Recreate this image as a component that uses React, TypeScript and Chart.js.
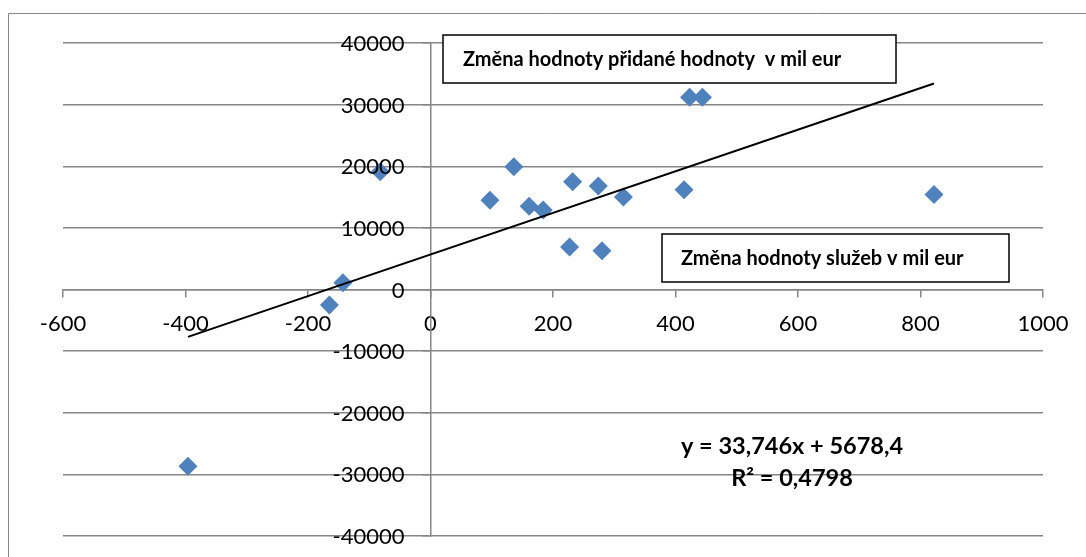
import React, { useEffect, useRef } from "react";
import { Chart, registerables } from "chart.js";

Chart.register(...registerables);

// Data
const serviceChange = [-396, -165, -143, -82, 97, 136, 161, 184, 227, 232, 274, 280, 315, 414, 423, 444, 822];
const valueAddedChange = [-28700, -2500, 1100, 19100, 14500, 19900, 13500, 12900, 6900, 17500, 16800, 6300, 15000, 16200, 31200, 31200, 15400];
const trendSlope = 33.746;
const trendIntercept = 5678.4;
const xRange = [-600, 1000];
const xStep = 200;
const yRange = [-40000, 40000];
const yStep = 10000;
const yAxisTitle = "Změna hodnoty přidané hodnoty  v mil eur";
const xAxisTitle = "Změna hodnoty služeb v mil eur";
const equationLines = ["y = 33,746x + 5678,4", "R² = 0,4798"];

const GRID = "#868686";
const FONT = "Lato, 'Open Sans', sans-serif";
const CANVAS_H = 600;

const annotationPlugin = {
  id: "annotations",
  afterDraw(chart: any) {
    const ctx = chart.ctx as CanvasRenderingContext2D;
    ctx.save();
    // y tick labels, placed left of the y axis (which crosses at x = 0)
    const ys = chart.scales.y;
    const axisX = chart.scales.x.getPixelForValue(0);
    ctx.fillStyle = "#000";
    ctx.font = `22px ${FONT}`;
    ctx.textAlign = "right";
    ctx.textBaseline = "middle";
    ys.ticks.forEach((t: any) => {
      ctx.fillText(String(t.value), axisX - 26, ys.getPixelForValue(t.value) + 1);
    });

    // outer frame (cut off at right/bottom)
    ctx.strokeStyle = GRID;
    ctx.lineWidth = 1;
    ctx.beginPath();
    ctx.moveTo(8.5, 700);
    ctx.lineTo(8.5, 13.5);
    ctx.lineTo(1200, 13.5);
    ctx.stroke();

    const drawBox = (x0: number, y0: number, x1: number, y1: number, text: string, tx: number, ty: number) => {
      ctx.fillStyle = "#ffffff";
      ctx.fillRect(x0, y0, x1 - x0, y1 - y0);
      ctx.strokeStyle = "#000000";
      ctx.lineWidth = 1.5;
      ctx.strokeRect(x0, y0, x1 - x0, y1 - y0);
      ctx.fillStyle = "#000000";
      ctx.font = `bold 20px ${FONT}`;
      ctx.textAlign = "left";
      ctx.textBaseline = "alphabetic";
      ctx.fillText(text, tx, ty);
    };
    drawBox(443, 35, 896, 83, yAxisTitle, 463, 66);
    drawBox(662, 234, 1009, 282, xAxisTitle, 681, 265);

    ctx.fillStyle = "#000000";
    ctx.font = `bold 23.5px ${FONT}`;
    ctx.textAlign = "center";
    ctx.textBaseline = "alphabetic";
    ctx.fillText(equationLines[0], 792, 454);
    ctx.fillText(equationLines[1], 792, 486);
    ctx.restore();
  },
};

export default function App() {
  const ref = useRef<HTMLCanvasElement>(null);
  useEffect(() => {
    if (!ref.current) return;
    const xMin = Math.min(...serviceChange);
    const xMax = Math.max(...serviceChange);
    const chart = new Chart(ref.current, {
      type: "scatter",
      data: {
        datasets: [
          {
            label: "data",
            data: serviceChange.map((x, i) => ({ x, y: valueAddedChange[i] })),
            pointStyle: "rectRot",
            pointRadius: 9.5,
            pointHoverRadius: 9.5,
            backgroundColor: "#4F81BD",
            borderColor: "#4F81BD",
            borderWidth: 0,
            order: 2,
          },
          {
            type: "line",
            label: "trend",
            data: [xMin, xMax].map((x) => ({ x, y: trendSlope * x + trendIntercept })),
            borderColor: "#000000",
            borderWidth: 2,
            pointRadius: 0,
            showLine: true,
            fill: false,
            order: 1,
          } as any,
        ],
      },
      options: {
        animation: false,
        responsive: false,
        events: [],
        layout: { padding: { left: 63, right: 43, top: 43, bottom: CANVAS_H - 536 } },
        plugins: { legend: { display: false }, tooltip: { enabled: false } },
        scales: {
          x: {
            type: "linear",
            position: { y: 0 } as any,
            min: xRange[0],
            max: xRange[1],
            ticks: {
              stepSize: xStep,
              color: "#000",
              font: { family: FONT, size: 22 },
              padding: 14,
              maxRotation: 0,
              callback: (v: any) => String(v),
            },
            grid: { drawOnChartArea: false, drawTicks: true, tickLength: 7, color: GRID, tickColor: GRID, lineWidth: 1.5 },
            border: { color: GRID, width: 1.5 },
          },
          y: {
            type: "linear",
            position: { x: 0 } as any,
            min: yRange[0],
            max: yRange[1],
            ticks: {
              stepSize: yStep,
              display: false,
            },
            grid: { drawOnChartArea: true, drawTicks: true, tickLength: 8, color: GRID, tickColor: GRID, lineWidth: 1.5 },
            border: { color: GRID, width: 1.5 },
          },
        },
      },
      plugins: [annotationPlugin],
    });
    return () => chart.destroy();
  }, []);
  return (
    <div style={{ position: "fixed", left: 0, top: 0, width: 1086, height: 557, overflow: "hidden", background: "#fff" }}>
      <canvas ref={ref} width={1086} height={CANVAS_H} style={{ width: 1086, height: CANVAS_H, display: "block" }} />
    </div>
  );
}
